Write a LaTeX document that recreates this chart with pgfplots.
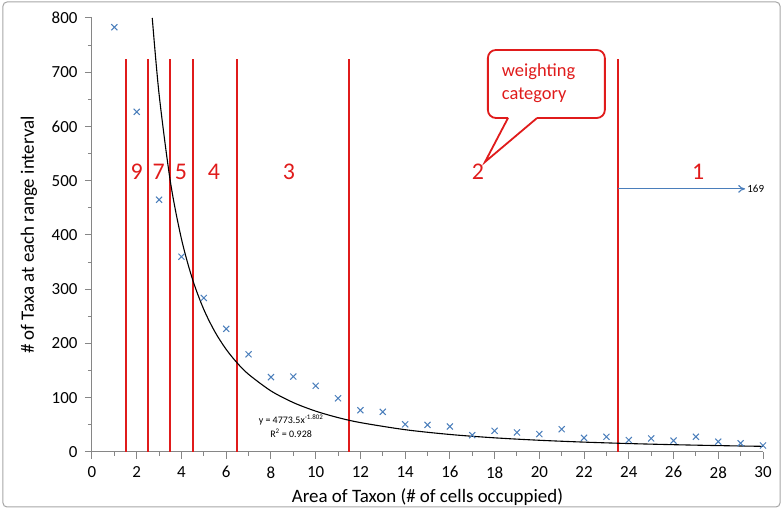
\documentclass[border=0pt]{standalone}
\usepackage{fontspec}
\setmainfont{Carlito}
\usepackage{pgfplots}
\pgfplotsset{compat=1.18}
\usetikzlibrary{arrows.meta,calc}
\definecolor{xblue}{HTML}{4A7EBB}
\definecolor{xred}{HTML}{E01B1B}
\definecolor{framegray}{HTML}{A6A6A6}
\definecolor{axgray}{HTML}{868686}
\begin{document}
\begin{tikzpicture}
\begin{axis}[
  scale only axis, width=671bp, height=434bp,
  xmin=0, xmax=30, ymin=0, ymax=800,
  axis x line*=bottom, axis y line*=left,
  axis line style={axgray, line width=1bp},
  xtick={0,2,...,30}, minor xtick={1,3,...,29},
  ytick={0,100,...,800}, minor ytick={50,150,...,750},
  tick style={axgray, line width=1bp}, tick align=outside,
  major tick length=7bp, minor tick length=4bp,
  tick label style={font=\fontsize{17}{19}\selectfont},
  xticklabel style={yshift=-4bp},
  yticklabel style={xshift=-4bp},
  /pgf/number format/assume math mode=true,
  xlabel={Area of Taxon (\# of cells occuppied)},
  ylabel={\# of Taxa at each range interval},
  label style={font=\fontsize{19}{22}\selectfont},
  xlabel style={at={(rel axis cs:0.5,0)}, anchor=center, yshift=-45bp},
  ylabel style={at={(rel axis cs:0,0.5)}, anchor=center, yshift=63bp},
  clip=false,
]
\coordinate (ll) at (rel axis cs:0,0);
\coordinate (ur) at (rel axis cs:1,1);
% weighting category boundaries
\addplot[xred, line width=2bp] coordinates {(1.5,0) (1.5,725)};
\addplot[xred, line width=2bp] coordinates {(2.5,0) (2.5,725)};
\addplot[xred, line width=2bp] coordinates {(3.5,0) (3.5,725)};
\addplot[xred, line width=2bp] coordinates {(4.5,0) (4.5,725)};
\addplot[xred, line width=2bp] coordinates {(6.5,0) (6.5,725)};
\addplot[xred, line width=2bp] coordinates {(11.5,0) (11.5,725)};
\addplot[xred, line width=2bp] coordinates {(23.5,0) (23.5,725)};
% power trendline y = 4773.5 x^-1.802
\addplot[black, line width=1.1bp, smooth] coordinates {
 (2.694,800) (3,659.3) (3.5,499.4) (4,392.6) (4.5,317.5) (5,262.6) (5.5,221.2)
 (6,189.1) (6.5,163.7) (7,143.2) (8,112.6) (9,91.1) (10,75.3) (11,63.4)
 (12,54.2) (14,41.1) (16,32.3) (18,26.1) (20,21.6) (22,18.2) (24,15.55)
 (26,13.46) (28,11.78) (30,10.40)};
% observed counts
\addplot[only marks, mark=x, xblue, mark size=4.3bp, line width=1bp] coordinates {
 (1,783) (2,627) (3,465) (4,360) (5,284) (6,227) (7,180) (8,138) (9,139) (10,122)
 (11,99) (12,77) (13,74) (14,51) (15,50) (16,47) (17,31) (18,39) (19,36) (20,33)
 (21,42) (22,26) (23,28) (24,22) (25,25) (26,21) (27,28) (28,19) (29,16) (30,12)};
% category numbers
\node[xred, font=\fontsize{24}{26}\selectfont] at (axis cs:2,516) {9};
\node[xred, font=\fontsize{24}{26}\selectfont] at (axis cs:2.98,516) {7};
\node[xred, font=\fontsize{24}{26}\selectfont] at (axis cs:3.98,516) {5};
\node[xred, font=\fontsize{24}{26}\selectfont] at (axis cs:5.45,516) {4};
\node[xred, font=\fontsize{24}{26}\selectfont] at (axis cs:8.8,516) {3};
\node[xred, font=\fontsize{24}{26}\selectfont] at (axis cs:17.25,516) {2};
\node[xred, font=\fontsize{24}{26}\selectfont] at (axis cs:27.1,516) {1};
% arrow to 169
\draw[xblue, line width=1.1bp, -{To[length=7bp,width=8bp]}] (axis cs:23.5,485) -- (axis cs:29.2,485);
\node[anchor=west, font=\fontsize{11}{12}\selectfont, inner sep=1bp] at (axis cs:29.25,485) {169};
% equation
\node[font=\fontsize{10}{12}\selectfont] at (axis cs:8.9,59) {y = 4773.5x\textsuperscript{-1.802}};
\node[font=\fontsize{10}{12}\selectfont] at (axis cs:8.9,35) {R\textsuperscript{2} = 0.928};
% callout
\draw[xred, line width=1.8bp, rounded corners=8bp, fill=white]
  (axis cs:18.6,615.7) -- (axis cs:17.70,615.7) -- (axis cs:17.70,741) -- (axis cs:22.93,741)
  -- (axis cs:22.93,615.7) -- (axis cs:19.9,615.7);
\draw[xred, line width=1.8bp, line join=miter] (axis cs:18.6,615.7) -- (axis cs:17.57,534.6) -- (axis cs:19.9,615.7);
\node[xred, anchor=base west, align=left, inner sep=0pt, font=\fontsize{18.5}{23}\selectfont] at (axis cs:18.32,649) {weighting\\category};
\end{axis}
\draw[framegray, line width=1bp, rounded corners=4bp] ($(ll)+(-89bp,-55bp)$) rectangle ($(ur)+(17bp,16bp)$);
\pgfresetboundingbox
\useasboundingbox ($(ll)+(-92bp,-58bp)$) rectangle ($(ur)+(20bp,18bp)$);
\end{tikzpicture}
\end{document}
